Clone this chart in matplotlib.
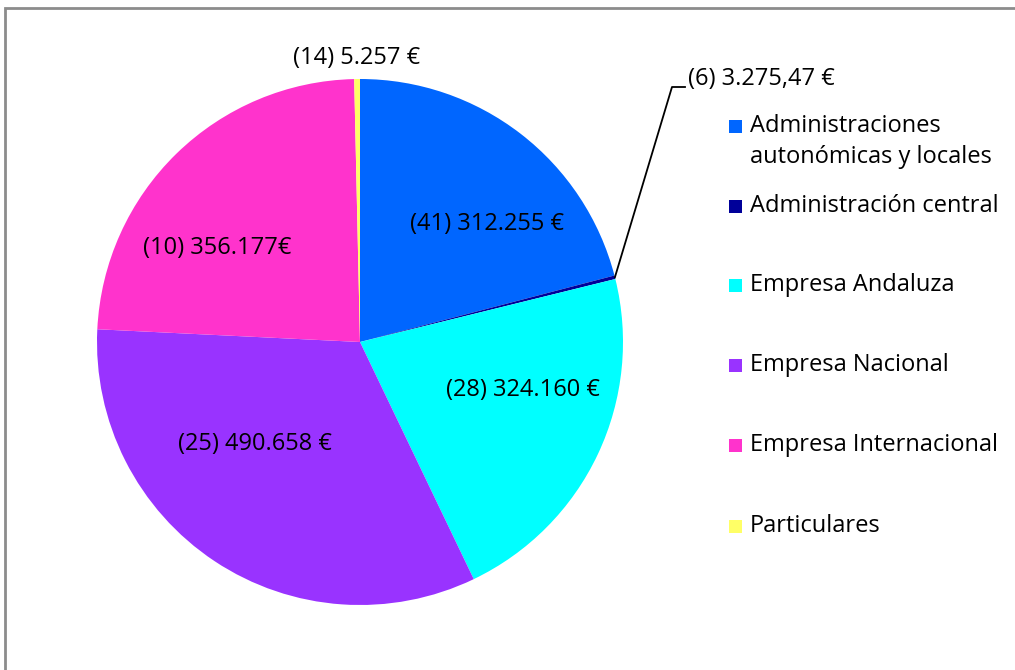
import numpy as np
import matplotlib
matplotlib.use("Agg")
import matplotlib.pyplot as plt
from matplotlib.patches import Rectangle

categories = ["Administraciones\nautonómicas y locales", "Administración central",
              "Empresa Andaluza", "Empresa Nacional", "Empresa Internacional", "Particulares"]
values = [312255, 3275.47, 324160, 490658, 356177, 5257]
labels = ["(41) 312.255 €", "(6) 3.275,47 €", "(28) 324.160 €", "(25) 490.658 €",
          "(10) 356.177€", "(14) 5.257 €"]
colors = ["#0066FF", "#000099", "#00FFFF", "#9933FF", "#FF33CC", "#FFFF66"]

W, H = 1015, 670
plt.rcParams['font.family'] = ['Open Sans', 'DejaVu Sans']
fig = plt.figure(figsize=(W / 100, H / 100), dpi=100)

def fx(x):
    return x / W

def fy(y):
    return 1 - y / H

cx, cy, r = 360, 342, 263
ax = fig.add_axes([fx(cx - r), fy(cy + r), 2 * r / W, 2 * r / H])
wedges, _ = ax.pie(values, colors=colors, startangle=90, counterclock=False, radius=1,
                   wedgeprops=dict(linewidth=0))
ax.set_xlim(-1, 1)
ax.set_ylim(-1, 1)
ax.set_aspect("auto")
ax.axis("off")

fs = 17
# label positions (pixels)
label_pos = {0: (487, 224), 2: (523, 390), 3: (255, 444), 4: (217, 248), 5: (357, 58)}
for i, (x, y) in label_pos.items():
    fig.text(fx(x), fy(y), labels[i], ha="center", va="center", fontsize=fs, color="black")

# leader line for tiny slice
w = wedges[1]
mid = np.deg2rad((w.theta1 + w.theta2) / 2)
x0 = cx + r * np.cos(mid)
y0 = cy - r * np.sin(mid)
fig.add_artist(plt.Line2D([fx(x0), fx(672), fx(685)], [fy(y0), fy(87), fy(87)],
                          color="black", lw=1.3))
fig.text(fx(688), fy(79), labels[1], ha="left", va="center", fontsize=fs, color="black")

# legend
slots = [126, 206, 285, 365, 445, 526]
for i, (cat, col) in enumerate(zip(categories, colors)):
    y = slots[i]
    fig.add_artist(Rectangle((fx(729), fy(y + 7)), 13 / W, 13 / H, facecolor=col,
                             edgecolor="none", transform=fig.transFigure))
    for k, line in enumerate(cat.split("\n")):
        fig.text(fx(750), fy(y + 31 * k), line, ha="left", va="center", fontsize=fs,
                 color="black")

# border
fig.add_artist(Rectangle((fx(5), fy(2 * H)), 2.0, (2 * H - 8) / H, facecolor="none",
                         edgecolor="#8c8c8c", lw=2, transform=fig.transFigure))

fig.savefig("out.png", dpi=100)
